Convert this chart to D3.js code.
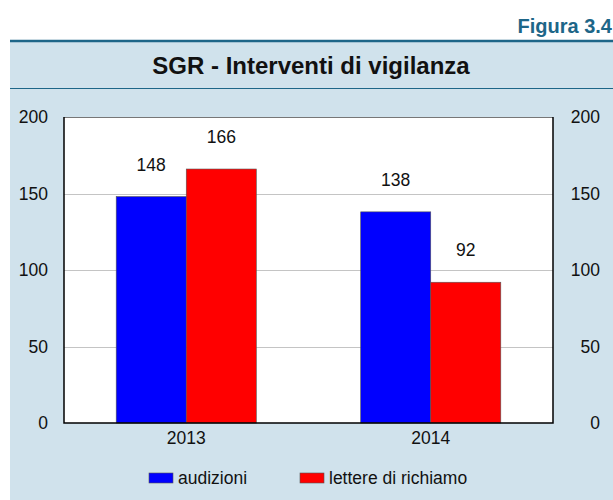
<!DOCTYPE html>
<html>
<head>
<meta charset="utf-8">
<script src="https://cdn.jsdelivr.net/npm/d3@7"></script>
<style>
  body { margin: 0; background: #fff; }
  svg { display: block; font-family: "Liberation Sans", Arial, Helvetica, sans-serif; }
</style>
</head>
<body>
<div id="chart"></div>
<script>
// data
var categories = ["2013", "2014"];
var seriesNames = ["audizioni", "lettere di richiamo"];
var audizioni = [148, 138];
var lettere = [166, 92];
var yTicks = [0, 50, 100, 150, 200];
var colors = ["#0000ff", "#ff0000"];

var width = 613, height = 500,
    plot = {left: 64, right: 553, top: 117, bottom: 423},
    fs = 17.5;

var svg = d3.select("#chart").append("svg")
    .attr("width", width)
    .attr("height", height);

// panel background
svg.append("rect")
    .attr("x", 10).attr("y", 40)
    .attr("width", width - 10).attr("height", height - 40)
    .attr("fill", "#d0e2ec");
svg.append("line")
    .attr("x1", 10).attr("x2", width).attr("y1", 41).attr("y2", 41)
    .attr("stroke", "#1d6688").attr("stroke-width", 2.5);
svg.append("line")
    .attr("x1", 10).attr("x2", width).attr("y1", 88.5).attr("y2", 88.5)
    .attr("stroke", "#1d6688").attr("stroke-width", 1.2);

svg.append("text")
    .attr("x", 612).attr("y", 33)
    .attr("text-anchor", "end")
    .attr("font-size", 20).attr("font-weight", "bold")
    .attr("fill", "#1d6688")
    .text("Figura 3.4");

svg.append("text")
    .attr("x", 311).attr("y", 74)
    .attr("text-anchor", "middle")
    .attr("font-size", 24).attr("font-weight", "bold")
    .attr("fill", "#111")
    .text("SGR - Interventi di vigilanza");

// scales
var x0 = d3.scaleBand().domain(categories).range([plot.left, plot.right]).padding(0);
var groupW = x0.bandwidth() * 0.573;
var x1 = d3.scaleBand().domain(seriesNames).range([0, groupW]).padding(0);
var y = d3.scaleLinear().domain([0, 200]).range([plot.bottom, plot.top]);

svg.append("rect")
    .attr("x", plot.left).attr("y", plot.top)
    .attr("width", plot.right - plot.left).attr("height", plot.bottom - plot.top)
    .attr("fill", "#fff");

// gridlines
svg.append("g").selectAll("line")
    .data(yTicks.filter(function(d) { return d > 0; }))
    .enter().append("line")
    .attr("x1", plot.left).attr("x2", plot.right)
    .attr("y1", function(d) { return Math.round(y(d)) + 0.5; })
    .attr("y2", function(d) { return Math.round(y(d)) + 0.5; })
    .attr("stroke", function(d) { return d === 200 ? "#777" : "#c4c4c4"; })
    .attr("stroke-width", 1.2);

// bars
var rows = categories.map(function(c, i) {
    return {cat: c, values: [audizioni[i], lettere[i]]};
});
var groups = svg.append("g").selectAll("g")
    .data(rows).enter().append("g")
    .attr("transform", function(d) {
        return "translate(" + (x0(d.cat) + (x0.bandwidth() - groupW) / 2) + ",0)";
    });
groups.selectAll("rect")
    .data(function(d) { return d.values; })
    .enter().append("rect")
    .attr("x", function(d, i) { return x1(seriesNames[i]); })
    .attr("y", function(d) { return y(d); })
    .attr("width", x1.bandwidth())
    .attr("height", function(d) { return y(0) - y(d); })
    .attr("fill", function(d, i) { return colors[i]; })
    .attr("stroke", "#555").attr("stroke-width", 0.6);
groups.selectAll("text")
    .data(function(d) { return d.values; })
    .enter().append("text")
    .attr("x", function(d, i) { return x1(seriesNames[i]) + x1.bandwidth() / 2; })
    .attr("y", function(d) { return y(d) - 26; })
    .attr("text-anchor", "middle")
    .attr("font-size", fs).attr("fill", "#111")
    .text(function(d) { return d; });

// plot frame: left, bottom, right black
svg.append("path")
    .attr("d", "M" + plot.left + "," + plot.top + "V" + plot.bottom + "H" + plot.right + "V" + plot.top)
    .attr("fill", "none").attr("stroke", "#000").attr("stroke-width", 1.5);

// axes
var yLeft = svg.append("g")
    .attr("transform", "translate(" + plot.left + ",0)")
    .call(d3.axisLeft(y).tickValues(yTicks).tickSize(0).tickPadding(16));
var yRight = svg.append("g")
    .attr("transform", "translate(" + 600 + ",0)")
    .call(d3.axisLeft(y).tickValues(yTicks).tickSize(0).tickPadding(0));
var xAxis = svg.append("g")
    .attr("transform", "translate(0," + plot.bottom + ")")
    .call(d3.axisBottom(x0).tickSize(0).tickPadding(9));
[yLeft, yRight, xAxis].forEach(function(a) {
    a.select(".domain").remove();
    a.selectAll("text").attr("font-size", fs).attr("fill", "#111")
        .attr("font-family", "Liberation Sans, Arial, sans-serif");
});

// legend
var legendX = [149, 300];
var legend = svg.append("g").selectAll("g")
    .data(seriesNames).enter().append("g")
    .attr("transform", function(d, i) { return "translate(" + legendX[i] + ",473)"; });
legend.append("rect")
    .attr("width", 24).attr("height", 10)
    .attr("fill", function(d, i) { return colors[i]; })
    .attr("stroke", "#555").attr("stroke-width", 0.6);
legend.append("text")
    .attr("x", 29).attr("y", 11)
    .attr("font-size", fs).attr("fill", "#111")
    .text(function(d) { return d; });
</script>
</body>
</html>
